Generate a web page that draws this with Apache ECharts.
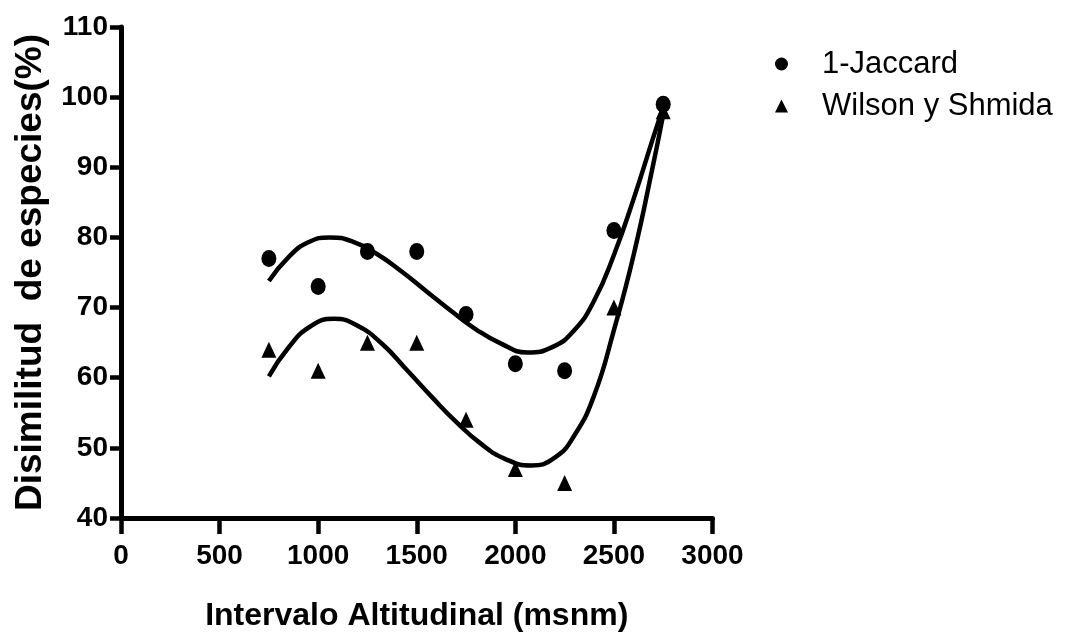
<!DOCTYPE html>
<html>
<head>
<meta charset="utf-8">
<script src="https://cdn.jsdelivr.net/npm/echarts@6/dist/echarts.min.js"></script>
<style>
  html, body { margin: 0; padding: 0; background: #fff; }
  #chart { width: 1068px; height: 639px; }
</style>
</head>
<body>
<div id="chart"></div>
<script>
// altitudinal intervals (msnm)
var altitudes = [750, 1000, 1250, 1500, 1750, 2000, 2250, 2500, 2750];
// measured dissimilarity (%)
var jaccard = [77, 73, 78, 78, 69, 62, 61, 81, 99];
var wilson = [64, 61, 65, 65, 54, 47, 45, 70, 98];

// fitted curves
var jaccardFitX = [750, 850, 950, 1060, 1175, 1300, 1425, 1550, 1675, 1800, 1925, 2060, 2190, 2300, 2400, 2500, 2600, 2700, 2750];
var jaccardFit = [73.8, 77.2, 79.3, 80.0, 79.4, 77.6, 75.1, 72.3, 69.5, 66.9, 64.9, 63.6, 64.4, 66.8, 71.0, 77.5, 85.5, 94.3, 98.6];
var wilsonFitX = [750, 850, 960, 1080, 1200, 1325, 1450, 1575, 1700, 1825, 1950, 2080, 2200, 2300, 2400, 2500, 2600, 2700, 2750];
var wilsonFit = [60.2, 64.3, 67.3, 68.4, 67.4, 64.8, 61.1, 57.3, 53.7, 50.6, 48.4, 47.5, 48.6, 51.8, 57.5, 66.8, 77.5, 90.5, 97.5];

var xTicks = [0, 3000, 500];
var yTicks = [40, 110, 10];

function pairs(xs, ys) {
  return xs.map(function (x, i) { return [x, ys[i]]; });
}

var sans = '"Liberation Sans", Arial, sans-serif';

var chart = echarts.init(document.getElementById('chart'));
chart.setOption({
  animation: false,
  backgroundColor: '#fff',
  grid: { left: 121, right: 355.5, top: 27, bottom: 121 },
  legend: {
    orient: 'vertical',
    left: 770,
    top: 41,
    itemWidth: 13,
    itemHeight: 13,
    itemGap: 6,
    data: ['1-Jaccard', 'Wilson y Shmida'],
    textStyle: {
      color: '#000',
      fontFamily: sans,
      fontSize: 31,
      lineHeight: 36,
      padding: [0, 0, 0, 29]
    }
  },
  xAxis: {
    type: 'value',
    min: xTicks[0],
    max: xTicks[1],
    interval: xTicks[2],
    name: 'Intervalo Altitudinal (msnm)',
    nameLocation: 'middle',
    nameGap: 82,
    nameTextStyle: { color: '#000', fontFamily: sans, fontWeight: 'bold', fontSize: 32 },
    splitLine: { show: false },
    axisLine: { lineStyle: { color: '#000', width: 5 } },
    axisTick: { length: 16, lineStyle: { color: '#000', width: 4.5 } },
    axisLabel: {
      color: '#000', fontFamily: sans, fontWeight: 'bold', fontSize: 28, margin: 24,
      formatter: function (v) { return String(v); }
    }
  },
  yAxis: {
    type: 'value',
    min: yTicks[0],
    max: yTicks[1],
    interval: yTicks[2],
    name: 'Disimilitud  de especies(%)',
    nameLocation: 'middle',
    nameGap: 72,
    nameTextStyle: { color: '#000', fontFamily: sans, fontWeight: 'bold', fontSize: 37 },
    splitLine: { show: false },
    axisLine: { show: true, lineStyle: { color: '#000', width: 5 } },
    axisTick: { show: true, length: 11, lineStyle: { color: '#000', width: 4.5 } },
    axisLabel: { color: '#000', fontFamily: sans, fontWeight: 'bold', fontSize: 28, margin: 13 }
  },
  series: [
    {
      name: 'fit-jaccard',
      type: 'line',
      data: pairs(jaccardFitX, jaccardFit),
      smooth: true,
      showSymbol: false,
      lineStyle: { color: '#000', width: 4.5 },
      z: 2
    },
    {
      name: 'fit-wilson',
      type: 'line',
      data: pairs(wilsonFitX, wilsonFit),
      smooth: true,
      showSymbol: false,
      lineStyle: { color: '#000', width: 4.5 },
      z: 2
    },
    {
      name: '1-Jaccard',
      type: 'scatter',
      data: pairs(altitudes, jaccard),
      symbol: 'circle',
      symbolSize: [15, 17],
      itemStyle: { color: '#000', opacity: 1 },
      z: 3
    },
    {
      name: 'Wilson y Shmida',
      type: 'scatter',
      data: pairs(altitudes, wilson),
      symbol: 'triangle',
      symbolSize: [15, 16],
      itemStyle: { color: '#000', opacity: 1 },
      z: 3
    }
  ]
});
</script>
</body>
</html>
